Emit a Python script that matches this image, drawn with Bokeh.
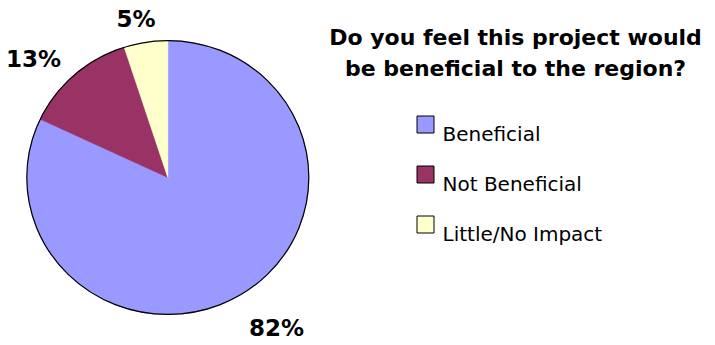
import numpy as np
from bokeh.plotting import figure
from bokeh.models import Range1d, ColumnDataSource
from bokeh.core.properties import value
from bokeh.embed import file_html
from bokeh.resources import INLINE

# ---- data ----
categories = ["Beneficial", "Not Beneficial", "Little/No Impact"]
shares = [82, 13, 5]
colors = ["#9999FF", "#993366", "#FFFFCC"]
title_lines = ["Do you feel this project would", "be beneficial to the region?"]

# ---- layout (pixel-space plot: data units == picture pixels) ----
W, H = 715, 345
FONT = "DejaVu Sans"
cx, cy = 167.3, 177.0      # pie centre
rx, ry = 141.0, 137.0      # pie semi-axes (slightly elliptical as in the reference)

p = figure(width=W, height=H, output_backend="svg", toolbar_location=None,
           x_range=Range1d(0, W), y_range=Range1d(H, 0),
           x_axis_location=None, y_axis_location=None, min_border=0)
p.grid.grid_line_color = None
p.outline_line_color = None
p.background_fill_color = "white"
p.border_fill_color = "white"

# ---- pie slices (clockwise from 12 o'clock) ----
frac = np.array(shares, dtype=float) / sum(shares)
ends = np.cumsum(frac) * 2 * np.pi
starts = ends - frac * 2 * np.pi
xs, ys = [], []
for s, e in zip(starts, ends):
    th = np.linspace(s, e, 240)
    xs.append([cx] + list(cx + rx * np.sin(th)))
    ys.append([cy] + list(cy - ry * np.cos(th)))
p.patches(xs=xs, ys=ys, fill_color=colors, line_color=colors, line_width=0.6)
p.ellipse(x=[cx], y=[cy], width=[2 * rx], height=[2 * ry],
          fill_color=None, line_color="black", line_width=1.2)

# ---- percentage labels (outside, along each slice's mid-angle) ----
mid = (starts + ends) / 2
lab_src = ColumnDataSource(dict(
    x=cx + 1.44 * rx * np.sin(mid),
    y=(cy + 8) - 1.23 * ry * np.cos(mid),
    t=[f"{v}%" for v in shares],
))
p.text(x="x", y="y", text="t", source=lab_src, text_font=value(FONT),
       text_font_style="bold", text_font_size="23px", text_align="center",
       text_baseline="middle", text_color="black")

# ---- title ----
p.text(x=[515, 515], y=[37, 68], text=title_lines, text_font=value(FONT),
       text_font_style="bold", text_font_size="22px", text_align="center",
       text_baseline="alphabetic", text_color="black")

# ---- legend ----
leg_y = [124 + 50 * i for i in range(len(categories))]
p.rect(x=[425] * len(categories), y=leg_y, width=17, height=17,
       fill_color=colors, line_color="black", line_width=1)
p.text(x=[442] * len(categories), y=[v + 9 for v in leg_y], text=categories,
       text_font=value(FONT), text_font_size="20px", text_align="left",
       text_baseline="alphabetic", text_color="black")

open("out.html", "w").write(file_html(p, INLINE))
